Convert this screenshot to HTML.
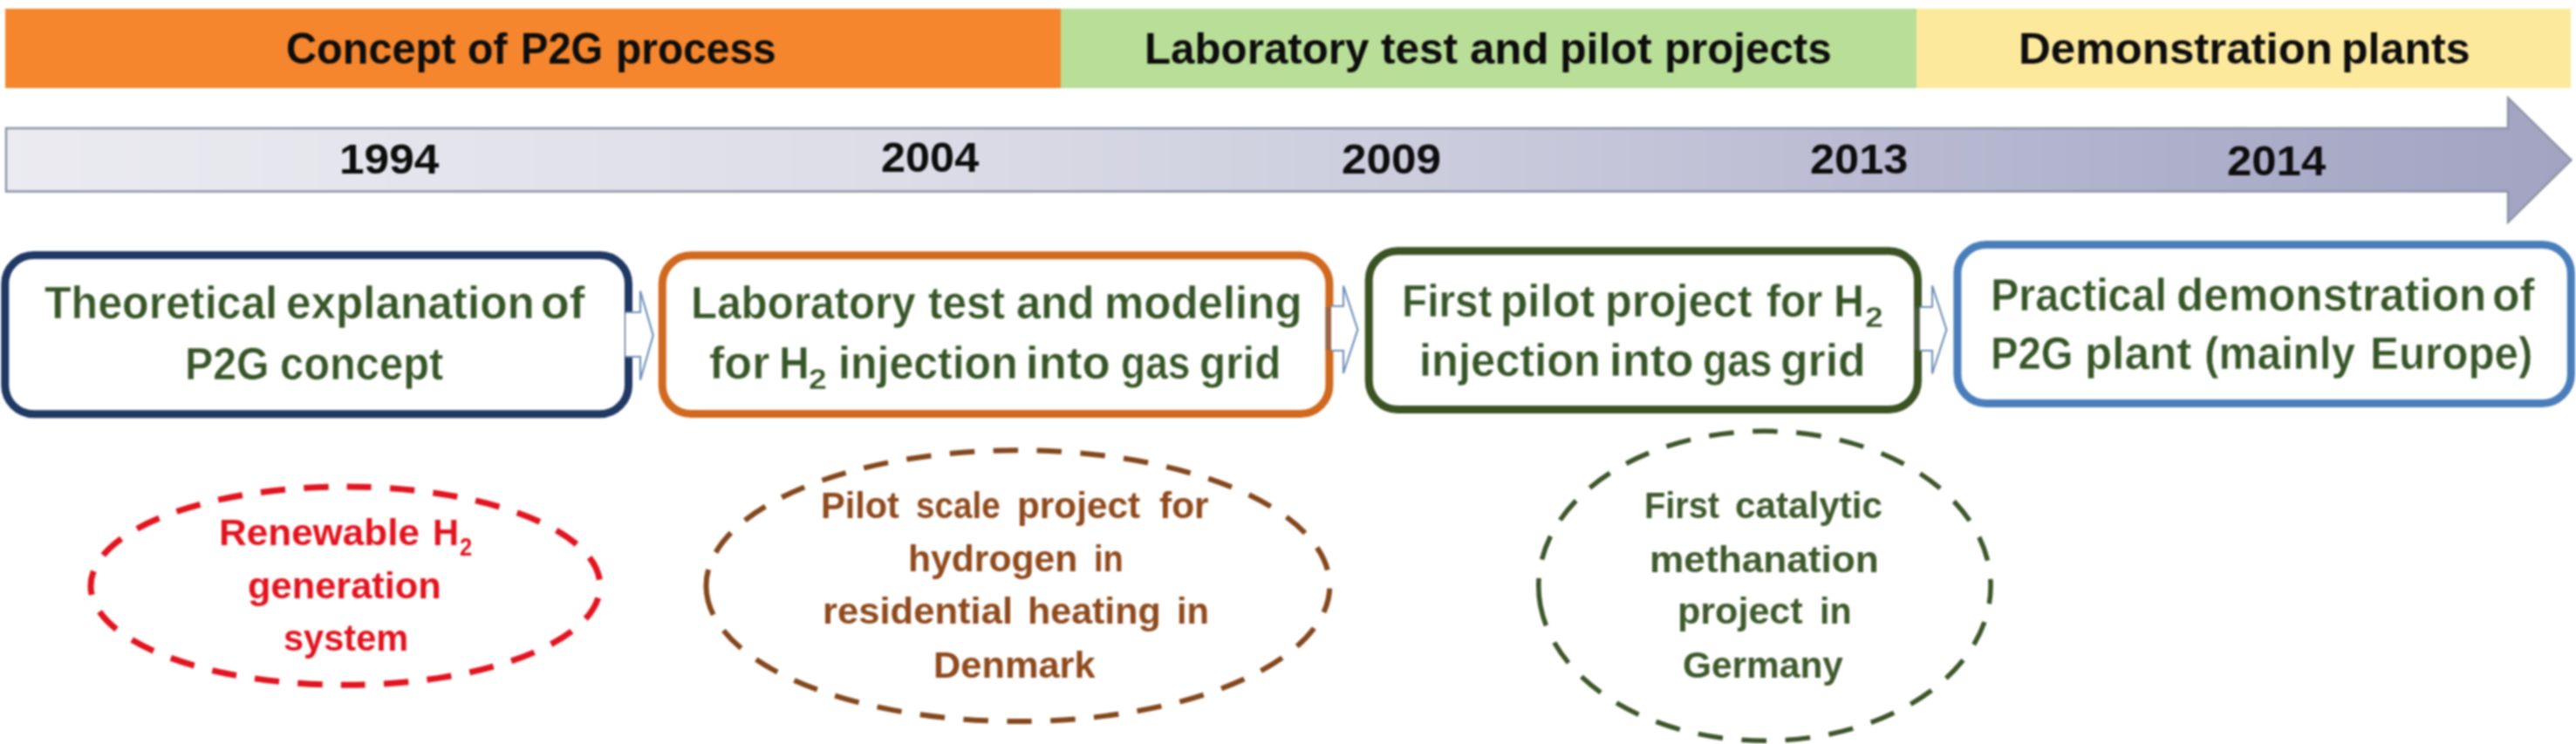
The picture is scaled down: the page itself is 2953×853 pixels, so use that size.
<!DOCTYPE html>
<html><head><meta charset="utf-8"><title>P2G timeline</title>
<style>
html,body{margin:0;padding:0;background:#fff;}
body{width:2953px;height:853px;position:relative;overflow:hidden;font-family:"Liberation Sans",sans-serif;}
#stage{position:absolute;left:0;top:0;width:2953px;height:853px;background:#fff;overflow:hidden;}
svg{position:absolute;left:0;top:0;}
.ln{position:absolute;left:0;top:0;width:0;height:0;}
.t{position:absolute;white-space:pre;font-weight:bold;line-height:1;transform-origin:0 0;font-family:"Liberation Sans",sans-serif;}
#stage{filter:blur(1px);}

</style></head><body>
<div id="stage">
<svg width="2953" height="853" viewBox="0 0 2953 853">
<defs>
<linearGradient id="ag" x1="0" y1="0" x2="1" y2="0">
<stop offset="0" stop-color="#ebebf1"/>
<stop offset="0.35" stop-color="#dcdde7"/>
<stop offset="0.55" stop-color="#cccddd"/>
<stop offset="0.72" stop-color="#bbbcd3"/>
<stop offset="0.88" stop-color="#abadc9"/>
<stop offset="1" stop-color="#a2a4c2"/>
</linearGradient></defs>
<rect x="6" y="10" width="1210" height="91" fill="#f5862d"/>
<rect x="1216" y="10" width="981" height="91" fill="#b8de97"/>
<rect x="2197" y="10" width="750" height="91" fill="#fde99c"/>
<path d="M7,147 L2875,147 L2875,112 L2947.5,183.5 L2875,255 L2875,219.5 L7,219.5 Z" fill="url(#ag)" stroke="#8a93a5" stroke-width="2.4" stroke-linejoin="miter"/>
<rect x="5.80" y="292.50" width="714.70" height="182.30" rx="33" ry="33" fill="#fff" stroke="#1f3864" stroke-width="9"/>
<rect x="759.20" y="292.80" width="764.70" height="181.70" rx="33" ry="33" fill="#fff" stroke="#d0691e" stroke-width="9"/>
<rect x="1569.20" y="287.80" width="629.30" height="181.70" rx="33" ry="33" fill="#fff" stroke="#3b5323" stroke-width="9"/>
<rect x="2243.90" y="280.50" width="703.40" height="182.00" rx="33" ry="33" fill="#fff" stroke="#4a7ebb" stroke-width="9"/>
<path d="M1526.0,351.0 L1540.0,351.0 L1540.0,327.7 L1556.4,377.9 L1540.0,428.0 L1540.0,402.0 L1526.0,402.0" fill="#fff" stroke="#6f8fb9" stroke-width="2.1" stroke-linejoin="miter"/>
<rect x="1519.4" y="351.8" width="6.6" height="49.4" fill="#5f5f6a" fill-opacity="0.5"/>
<path d="M2200.8,352.0 L2215.0,352.0 L2215.0,327.4 L2231.4,377.9 L2215.0,428.5 L2215.0,402.0 L2200.8,402.0" fill="#fff" stroke="#6f8fb9" stroke-width="2.1" stroke-linejoin="miter"/>
<rect x="2194" y="352.8" width="6.8" height="48.4" fill="#6a6a78" fill-opacity="0.35"/>
<path d="M717.0,358.0 L734.0,358.0 L734.0,333.6 L748.8,384.6 L734.0,435.6 L734.0,409.0 L717.0,409.0" fill="#fff" stroke="#6f8fb9" stroke-width="2.1" stroke-linejoin="miter"/>
<path d="M104.00,671.65 A291.95,113.65 0 1 1 687.90,671.65 A291.95,113.65 0 1 1 104.00,671.65" fill="none" stroke="#e2141f" stroke-width="7" stroke-dasharray="28.50,21.28,28.21,21.28,28.21,21.28,28.21,21.28,28.21,21.28,28.21,21.28,28.21,21.28,28.21,21.28,28.21,21.28,28.21,21.28,28.21,21.28,28.21,21.28,28.21,21.28,28.21,21.28,28.21,21.28,28.21,21.28,28.21,21.28,28.21,21.28,28.21,21.28,28.21,21.28,28.21,21.28,28.21,21.28,28.21,21.28,28.21,21.28,28.21,21.28,28.21,21.28,28.21,21.28" stroke-dashoffset="11"/>
<path d="M809.50,671.70 A357.40,155.30 0 1 1 1524.30,671.70 A357.40,155.30 0 1 1 809.50,671.70" fill="none" stroke="#84471c" stroke-width="6" stroke-dasharray="54.00,21.48,28.47,21.48,28.47,21.48,28.47,21.48,28.47,21.48,28.47,21.48,28.47,21.48,28.47,21.48,28.47,21.48,28.47,21.48,28.47,21.48,28.47,21.48,28.47,21.48,28.47,21.48,28.47,21.48,28.47,21.48,28.47,21.48,28.47,21.48,28.47,21.48,28.47,21.48,28.47,21.48,28.47,21.48,28.47,21.48,28.47,21.48,28.47,21.48,28.47,21.48,28.47,21.48,28.47,21.48,28.47,21.48,28.47,21.48,28.47,21.48,28.47,21.48,28.47,21.48" stroke-dashoffset="35"/>
<path d="M1763.75,671.80 A259.15,177.45 0 1 1 2282.05,671.80 A259.15,177.45 0 1 1 1763.75,671.80" fill="none" stroke="#3d5529" stroke-width="5.5" stroke-dasharray="56.00,21.60,28.63,21.60,28.63,21.60,28.63,21.60,28.63,21.60,28.63,21.60,28.63,21.60,28.63,21.60,28.63,21.60,28.63,21.60,28.63,21.60,28.63,21.60,28.63,21.60,28.63,21.60,28.63,21.60,28.63,21.60,28.63,21.60,28.63,21.60,28.63,21.60,28.63,21.60,28.63,21.60,28.63,21.60,28.63,21.60,28.63,21.60,28.63,21.60,28.63,21.60,28.63,21.60" stroke-dashoffset="47"/>
</svg>
<div class="ln" style="color:#0d0d0d"><span class="t" style="left:328.08px;top:31.21px;font-size:50.73px;transform:scaleX(0.9583)">Concept</span> <span class="t" style="left:536.05px;top:31.21px;font-size:50.73px;transform:scaleX(0.9493)">of</span> <span class="t" style="left:596.82px;top:31.21px;font-size:50.73px;transform:scaleX(0.9278)">P2G</span> <span class="t" style="left:706.17px;top:31.21px;font-size:50.73px;transform:scaleX(0.9447)">process</span></div>
<div class="ln" style="color:#0d0d0d"><span class="t" style="left:1311.58px;top:30.71px;font-size:50.73px;transform:scaleX(0.9717)">Laboratory</span> <span class="t" style="left:1583.40px;top:30.71px;font-size:50.73px;transform:scaleX(0.9756)">test</span> <span class="t" style="left:1685.00px;top:30.71px;font-size:50.73px;transform:scaleX(1.0048)">and</span> <span class="t" style="left:1787.54px;top:30.71px;font-size:50.73px;transform:scaleX(0.9861)">pilot</span> <span class="t" style="left:1908.09px;top:30.71px;font-size:50.73px;transform:scaleX(0.9715)">projects</span></div>
<div class="ln" style="color:#0d0d0d"><span class="t" style="left:2314.28px;top:30.71px;font-size:50.73px;transform:scaleX(1.0060)">Demonstration</span> <span class="t" style="left:2683.54px;top:30.71px;font-size:50.73px;transform:scaleX(0.9879)">plants</span></div>
<div class="ln" style="color:#0d0d0d"><span class="t" style="left:389.45px;top:157.62px;font-size:49.00px;transform:scaleX(1.0487)">1994</span></div>
<div class="ln" style="color:#0d0d0d"><span class="t" style="left:1010.47px;top:155.62px;font-size:49.00px;transform:scaleX(1.0292)">2004</span></div>
<div class="ln" style="color:#0d0d0d"><span class="t" style="left:1537.75px;top:157.62px;font-size:49.00px;transform:scaleX(1.0473)">2009</span></div>
<div class="ln" style="color:#0d0d0d"><span class="t" style="left:2074.97px;top:157.62px;font-size:49.00px;transform:scaleX(1.0304)">2013</span></div>
<div class="ln" style="color:#0d0d0d"><span class="t" style="left:2552.56px;top:160.12px;font-size:49.00px;transform:scaleX(1.0385)">2014</span></div>
<div class="ln" style="color:#375628"><span class="t" style="left:51.06px;top:322.14px;font-size:51.45px;-webkit-text-stroke:0.50px #ffffff;transform:scaleX(0.9737)">Theoretical</span> <span class="t" style="left:327.56px;top:322.14px;font-size:51.45px;-webkit-text-stroke:0.50px #ffffff;transform:scaleX(0.9964)">explanation</span> <span class="t" style="left:619.56px;top:322.14px;font-size:51.45px;-webkit-text-stroke:0.50px #ffffff;transform:scaleX(1.0422)">of</span></div>
<div class="ln" style="color:#375628"><span class="t" style="left:211.96px;top:391.64px;font-size:51.45px;-webkit-text-stroke:0.50px #ffffff;transform:scaleX(0.9366)">P2G</span> <span class="t" style="left:320.86px;top:391.64px;font-size:51.45px;-webkit-text-stroke:0.50px #ffffff;transform:scaleX(0.9497)">concept</span></div>
<div class="ln" style="color:#375628"><span class="t" style="left:791.58px;top:321.74px;font-size:51.45px;-webkit-text-stroke:0.50px #ffffff;transform:scaleX(0.9595)">Laboratory</span> <span class="t" style="left:1063.76px;top:321.74px;font-size:51.45px;-webkit-text-stroke:0.50px #ffffff;transform:scaleX(0.9621)">test</span> <span class="t" style="left:1164.77px;top:321.74px;font-size:51.45px;-webkit-text-stroke:0.50px #ffffff;transform:scaleX(0.9803)">and</span> <span class="t" style="left:1266.08px;top:321.74px;font-size:51.45px;-webkit-text-stroke:0.50px #ffffff;transform:scaleX(0.9910)">modeling</span></div>
<div class="ln" style="color:#375628"><span class="t" style="left:812.75px;top:391.14px;font-size:51.45px;-webkit-text-stroke:0.50px #ffffff;transform:scaleX(1.0140)">for</span> <span class="t" style="left:892.76px;top:391.14px;font-size:51.45px;-webkit-text-stroke:0.50px #ffffff;transform:scaleX(0.9344)">H</span> <span class="t" style="left:961.34px;top:391.14px;font-size:51.45px;-webkit-text-stroke:0.50px #ffffff;transform:scaleX(0.9730)">injection</span> <span class="t" style="left:1175.66px;top:391.14px;font-size:51.45px;-webkit-text-stroke:0.50px #ffffff;transform:scaleX(1.0264)">into</span> <span class="t" style="left:1284.68px;top:391.14px;font-size:51.45px;-webkit-text-stroke:0.50px #ffffff;transform:scaleX(0.8956)">gas</span> <span class="t" style="left:1374.83px;top:391.14px;font-size:51.45px;-webkit-text-stroke:0.50px #ffffff;transform:scaleX(0.9628)">grid</span></div>
<div class="ln" style="color:#375628"><span class="t" style="left:927.38px;top:419.30px;font-size:32.54px;-webkit-text-stroke:0.30px #ffffff;transform:scaleX(1.1465)">2</span></div>
<div class="ln" style="color:#375628"><span class="t" style="left:1606.99px;top:320.14px;font-size:51.45px;-webkit-text-stroke:0.50px #ffffff;transform:scaleX(0.9273)">First</span> <span class="t" style="left:1719.96px;top:320.14px;font-size:51.45px;-webkit-text-stroke:0.50px #ffffff;transform:scaleX(0.9979)">pilot</span> <span class="t" style="left:1840.31px;top:320.14px;font-size:51.45px;-webkit-text-stroke:0.50px #ffffff;transform:scaleX(0.9824)">project</span> <span class="t" style="left:2024.97px;top:320.14px;font-size:51.45px;-webkit-text-stroke:0.50px #ffffff;transform:scaleX(0.9376)">for</span> <span class="t" style="left:2101.63px;top:320.14px;font-size:51.45px;-webkit-text-stroke:0.50px #ffffff;transform:scaleX(0.9443)">H</span></div>
<div class="ln" style="color:#375628"><span class="t" style="left:2138.28px;top:347.50px;font-size:32.54px;-webkit-text-stroke:0.30px #ffffff;transform:scaleX(1.1465)">2</span></div>
<div class="ln" style="color:#375628"><span class="t" style="left:1627.30px;top:388.14px;font-size:51.45px;-webkit-text-stroke:0.50px #ffffff;transform:scaleX(0.9837)">injection</span> <span class="t" style="left:1844.97px;top:388.14px;font-size:51.45px;-webkit-text-stroke:0.50px #ffffff;transform:scaleX(1.0242)">into</span> <span class="t" style="left:1952.18px;top:388.14px;font-size:51.45px;-webkit-text-stroke:0.50px #ffffff;transform:scaleX(0.8968)">gas</span> <span class="t" style="left:2041.04px;top:388.14px;font-size:51.45px;-webkit-text-stroke:0.50px #ffffff;transform:scaleX(1.0051)">grid</span></div>
<div class="ln" style="color:#375628"><span class="t" style="left:2282.04px;top:312.64px;font-size:51.45px;-webkit-text-stroke:0.50px #ffffff;transform:scaleX(0.9414)">Practical</span> <span class="t" style="left:2495.06px;top:312.64px;font-size:51.45px;-webkit-text-stroke:0.50px #ffffff;transform:scaleX(0.9943)">demonstration</span> <span class="t" style="left:2857.25px;top:312.64px;font-size:51.45px;-webkit-text-stroke:0.50px #ffffff;transform:scaleX(0.9996)">of</span></div>
<div class="ln" style="color:#375628"><span class="t" style="left:2282.12px;top:380.14px;font-size:51.45px;-webkit-text-stroke:0.50px #ffffff;transform:scaleX(0.9169)">P2G</span> <span class="t" style="left:2390.27px;top:380.14px;font-size:51.45px;-webkit-text-stroke:0.50px #ffffff;transform:scaleX(0.9946)">plant</span> <span class="t" style="left:2526.84px;top:380.14px;font-size:51.45px;-webkit-text-stroke:0.50px #ffffff;transform:scaleX(0.9608)">(mainly</span> <span class="t" style="left:2716.88px;top:380.14px;font-size:51.45px;-webkit-text-stroke:0.50px #ffffff;transform:scaleX(0.9592)">Europe)</span></div>
<div class="ln" style="color:#e2141f"><span class="t" style="left:250.73px;top:590.37px;font-size:42.44px;transform:scaleX(1.0370)">Renewable</span> <span class="t" style="left:496.04px;top:590.37px;font-size:42.44px;transform:scaleX(0.9808)">H</span></div>
<div class="ln" style="color:#e2141f"><span class="t" style="left:526.74px;top:611.84px;font-size:29.61px;transform:scaleX(0.8600)">2</span></div>
<div class="ln" style="color:#e2141f"><span class="t" style="left:284.48px;top:651.37px;font-size:42.44px;transform:scaleX(1.0224)">generation</span></div>
<div class="ln" style="color:#e2141f"><span class="t" style="left:324.52px;top:711.37px;font-size:42.44px;transform:scaleX(0.9788)">system</span></div>
<div class="ln" style="color:#8f4a1d"><span class="t" style="left:941.44px;top:559.37px;font-size:42.44px;transform:scaleX(0.9776)">Pilot</span> <span class="t" style="left:1049.79px;top:559.37px;font-size:42.44px;transform:scaleX(0.9102)">scale</span> <span class="t" style="left:1165.81px;top:559.37px;font-size:42.44px;transform:scaleX(0.9975)">project</span> <span class="t" style="left:1328.80px;top:559.37px;font-size:42.44px;transform:scaleX(1.0008)">for</span></div>
<div class="ln" style="color:#8f4a1d"><span class="t" style="left:1041.39px;top:620.37px;font-size:42.44px;transform:scaleX(1.0047)">hydrogen</span> <span class="t" style="left:1253.81px;top:620.37px;font-size:42.44px;transform:scaleX(0.8967)">in</span></div>
<div class="ln" style="color:#8f4a1d"><span class="t" style="left:942.85px;top:680.37px;font-size:42.44px;transform:scaleX(1.0271)">residential</span> <span class="t" style="left:1177.98px;top:680.37px;font-size:42.44px;transform:scaleX(1.0124)">heating</span> <span class="t" style="left:1348.73px;top:680.37px;font-size:42.44px;transform:scaleX(0.9825)">in</span></div>
<div class="ln" style="color:#8f4a1d"><span class="t" style="left:1069.66px;top:742.17px;font-size:42.44px;transform:scaleX(1.0215)">Denmark</span></div>
<div class="ln" style="color:#3f5a2c"><span class="t" style="left:1885.13px;top:559.17px;font-size:42.44px;transform:scaleX(0.9351)">First</span> <span class="t" style="left:1989.01px;top:559.17px;font-size:42.44px;transform:scaleX(0.9949)">catalytic</span></div>
<div class="ln" style="color:#3f5a2c"><span class="t" style="left:1890.92px;top:620.87px;font-size:42.44px;transform:scaleX(1.0420)">methanation</span></div>
<div class="ln" style="color:#3f5a2c"><span class="t" style="left:1922.77px;top:680.37px;font-size:42.44px;transform:scaleX(1.0154)">project</span> <span class="t" style="left:2085.86px;top:680.37px;font-size:42.44px;transform:scaleX(0.9677)">in</span></div>
<div class="ln" style="color:#3f5a2c"><span class="t" style="left:1928.70px;top:741.57px;font-size:42.44px;transform:scaleX(0.9995)">Germany</span></div>
</div>
</body></html>
